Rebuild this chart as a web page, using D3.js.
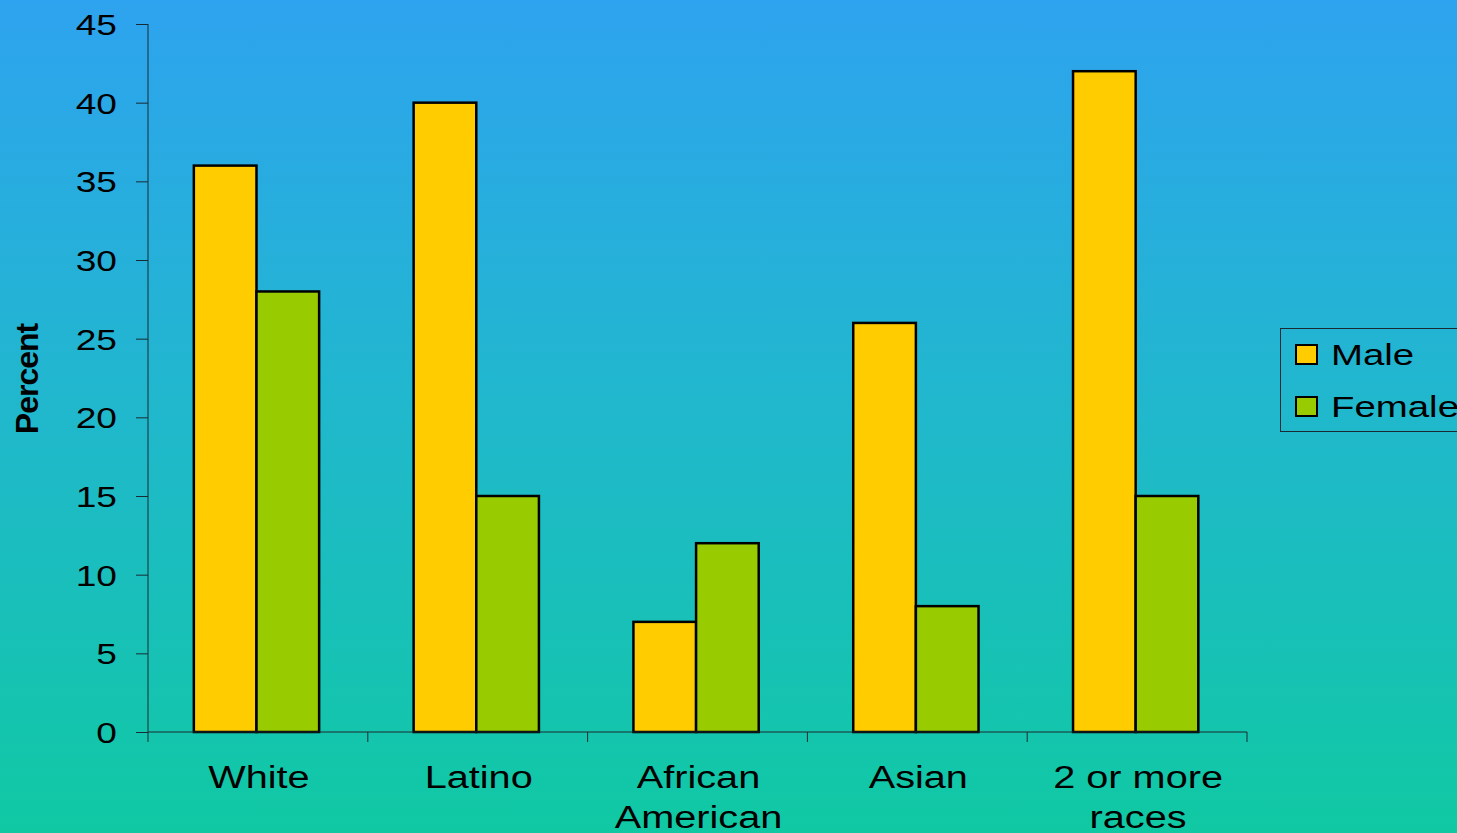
<!DOCTYPE html>
<html>
<head>
<meta charset="utf-8">
<script src="https://cdn.jsdelivr.net/npm/d3@7"></script>
<style>
html,body{margin:0;padding:0;overflow:hidden;}
svg{display:block;font-family:"Liberation Sans",Arial,sans-serif;}
</style>
</head>
<body>
<svg id="chart" width="1457" height="833"></svg>
<script>
const categories = [["White"], ["Latino"], ["African", "American"], ["Asian"], ["2 or more", "races"]];
const seriesNames = ["Male", "Female"];
const maleValues = [36, 40, 7, 26, 42];
const femaleValues = [28, 15, 12, 8, 15];
const yTicks = [0, 5, 10, 15, 20, 25, 30, 35, 40, 45];
const colors = {Male: "#FFCC00", Female: "#99CC00"};

(function () {
const svg = d3.select("#chart");
const W = 1457, H = 833;
const SX = 1.28; // horizontal stretch of text seen in the reference

const defs = svg.append("defs");
const grad = defs.append("linearGradient").attr("id", "bg").attr("x1", 0).attr("y1", 0).attr("x2", 0).attr("y2", 1);
grad.append("stop").attr("offset", "0%").attr("stop-color", "#2EA3EF");
grad.append("stop").attr("offset", "50%").attr("stop-color", "#20B8CC");
grad.append("stop").attr("offset", "100%").attr("stop-color", "#10C9A3");
svg.append("rect").attr("width", W).attr("height", H).attr("fill", "url(#bg)");

const pLeft = 148, pRight = 1247, pTop = 24, pBottom = 732;
const keys = categories.map(c => c.join(" "));
const x = d3.scaleBand().domain(keys).range([pLeft, pRight]).paddingInner(0.43).paddingOuter(0.215).align(0.485);
const xs = d3.scaleBand().domain(seriesNames).range([0, x.bandwidth()]);
const y = d3.scaleLinear().domain([0, 45]).range([pBottom, pTop]);

const data = keys.map((k, i) => ({key: k, Male: maleValues[i], Female: femaleValues[i]}));

// bars
const g = svg.append("g");
g.selectAll("g.cat").data(data).join("g").attr("class", "cat")
  .attr("transform", d => `translate(${x(d.key)},0)`)
  .selectAll("rect").data(d => seriesNames.map(s => ({s, v: d[s]}))).join("rect")
  .attr("x", d => xs(d.s))
  .attr("y", d => y(d.v))
  .attr("width", xs.bandwidth())
  .attr("height", d => pBottom - y(d.v))
  .attr("fill", d => colors[d.s])
  .attr("stroke", "#000").attr("stroke-width", 2.5);

// y axis
const yAxis = d3.axisLeft(y).tickValues(yTicks).tickSize(12).tickPadding(18);
const ya = svg.append("g").attr("transform", `translate(${pLeft},0)`).call(yAxis);
ya.select(".domain").attr("stroke", "#1a2a33").attr("d", `M0,${pTop}V${pBottom}`);
ya.selectAll(".tick line").attr("stroke", "#1a2a33");
ya.selectAll(".tick text").attr("font-size", 29).attr("fill", "#000")
  .attr("font-family", "Liberation Sans, Arial, sans-serif").attr("dy", "0.36em")
  .attr("x", 0).attr("transform", `translate(-31,0) scale(${SX},1)`);

// x axis line and boundary ticks
const xa = svg.append("g");
xa.append("line").attr("x1", pLeft).attr("x2", pRight).attr("y1", pBottom).attr("y2", pBottom).attr("stroke", "#1a2a33");
const step = (pRight - pLeft) / keys.length;
const bounds = d3.range(keys.length + 1).map(i => pLeft + i * step);
xa.selectAll("line.t").data(bounds).join("line").attr("class", "t")
  .attr("x1", d => d).attr("x2", d => d).attr("y1", pBottom).attr("y2", pBottom + 10).attr("stroke", "#1a2a33");

// category labels
categories.forEach((lines, i) => {
  const cx = pLeft + (i + 0.5) * step + 1;
  const t = svg.append("text").attr("transform", `translate(${cx},788) scale(${SX},1)`)
    .attr("text-anchor", "middle").attr("font-size", 31).attr("fill", "#000");
  lines.forEach((ln, j) => t.append("tspan").attr("x", 0).attr("y", j * 40).text(ln));
});

// y title
svg.append("text").attr("transform", "translate(38,379) rotate(-90)")
  .attr("text-anchor", "middle").attr("font-size", 32).attr("font-weight", "bold")
  .attr("letter-spacing", -1).attr("fill", "#000").text("Percent");

// legend
const lg = svg.append("g");
lg.append("rect").attr("x", 1280.5).attr("y", 328.5).attr("width", 200).attr("height", 103)
  .attr("fill", "none").attr("stroke", "#1a2a33").attr("stroke-width", 1);
seriesNames.forEach((s, i) => {
  lg.append("rect").attr("x", 1296).attr("y", 345 + i * 52).attr("width", 21).attr("height", 19)
    .attr("fill", colors[s]).attr("stroke", "#000").attr("stroke-width", 2);
  lg.append("text").attr("transform", `translate(1331,${365 + i * 52}) scale(${SX},1)`)
    .attr("font-size", 30).attr("fill", "#000").text(s);
});
})();
</script>
</body>
</html>
